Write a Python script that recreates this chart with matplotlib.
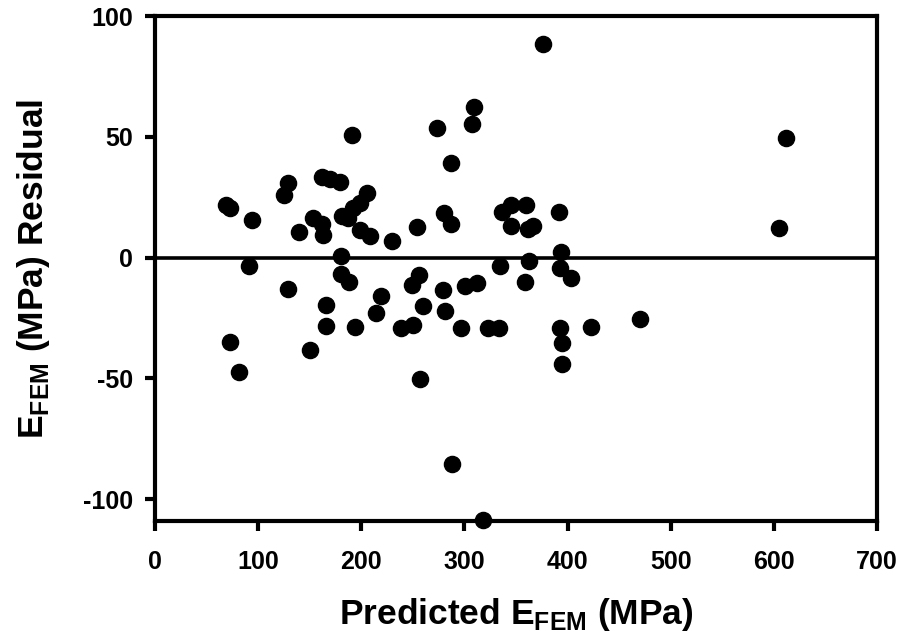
import matplotlib
matplotlib.use("Agg")
import matplotlib.pyplot as plt

# residuals
pred_mpa = [68.6, 72.7, 93.8, 129.3, 125.1, 191.4, 161.7, 169.7, 179.4, 205.3,
            198.8, 192.3, 181.0, 187.5, 153.5, 161.7, 162.6, 140.0, 198.8, 208.5,
            230.2, 180.4, 376.6, 309.4, 307.4, 273.2, 286.8, 253.8, 280.6, 287.1,
            336.3, 345.0, 345.0, 359.8, 362.1, 366.3, 391.9, 393.8, 91.5, 128.7,
            72.7, 81.5, 150.3, 165.6, 165.6, 180.4, 188.5, 194.3, 218.9, 214.0,
            239.0, 256.4, 249.0, 260.2, 250.5, 279.0, 281.3, 296.8, 300.7, 312.0,
            334.6, 323.3, 334.0, 363.0, 358.9, 392.8, 403.2, 392.8, 394.4, 395.0,
            422.6, 470.4, 257.0, 288.4, 318.4, 611.7, 604.6]
residual = [21.9, 20.5, 15.7, 30.9, 26.0, 50.8, 33.6, 32.6, 31.5, 26.7,
            22.6, 20.5, 17.4, 16.4, 16.4, 14.0, 9.5, 10.5, 11.6, 8.8,
            7.0, 0.5, 88.4, 62.3, 55.4, 53.8, 39.1, 12.5, 18.7, 13.9,
            19.1, 21.9, 13.2, 21.9, 11.9, 13.2, 19.1, 2.4, -3.3, -12.9,
            -34.8, -47.2, -38.4, -19.7, -28.4, -6.6, -9.9, -28.6, -15.7, -22.9,
            -29.2, -7.0, -11.2, -20.1, -27.7, -13.5, -22.2, -29.1, -11.6, -10.5,
            -3.3, -29.1, -29.1, -1.5, -10.2, -4.3, -8.4, -29.1, -35.3, -44.2,
            -28.6, -25.2, -50.4, -85.2, -108.7, 49.5, 12.3]

x_ticks = [0, 100, 200, 300, 400, 500, 600, 700]
y_ticks = [-100, -50, 0, 50, 100]

family = "Liberation Sans"
plt.rcParams["font.family"] = family
plt.rcParams["font.weight"] = "bold"
plt.rcParams["axes.unicode_minus"] = False
plt.rcParams["mathtext.fontset"] = "custom"
plt.rcParams["mathtext.rm"] = family + ":bold"
plt.rcParams["mathtext.bf"] = family + ":bold"

fig = plt.figure(figsize=(9.06, 6.44), dpi=100)
ax = fig.add_axes([0.171, 0.191, 0.797, 0.784])

ax.scatter(pred_mpa, residual, s=135, color="black", zorder=3, clip_on=False)
ax.axhline(0, color="black", lw=2.6, zorder=2)

ax.set_xlim(0, 700)
ax.set_ylim(-109, 100)
ax.set_xticks(x_ticks)
ax.set_yticks(y_ticks)

for sp in ax.spines.values():
    sp.set_linewidth(3)
ax.tick_params(direction="out", length=7, width=3, labelsize=18)
ax.tick_params(axis="x", pad=14)
ax.tick_params(axis="y", pad=9)

ax.set_xlabel(r"Predicted E$_\mathbf{FEM}$ (MPa)", fontsize=25.5, fontweight="bold", labelpad=16)
ax.set_ylabel(r"E$_\mathbf{FEM}$ (MPa) Residual", fontsize=25.5, fontweight="bold", labelpad=22)

fig.savefig("out.png", dpi=100)
